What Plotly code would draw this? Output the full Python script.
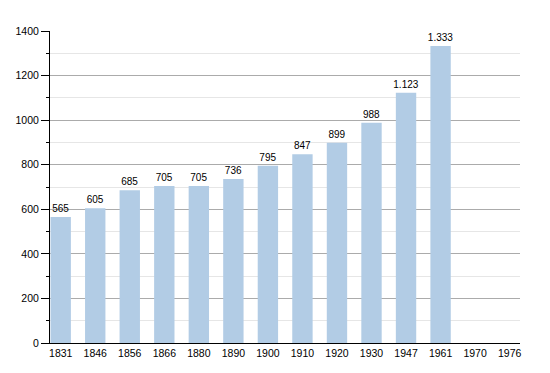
import plotly.graph_objects as go

years = ["1831", "1846", "1856", "1866", "1880", "1890", "1900", "1910", "1920", "1930", "1947", "1961", "1970", "1976"]
population = [565, 605, 685, 705, 705, 736, 795, 847, 899, 988, 1123, 1333, None, None]
labels = ["565", "605", "685", "705", "705", "736", "795", "847", "899", "988", "1.123", "1.333", "", ""]

FONT = "Liberation Sans, Arial, sans-serif"

fig = go.Figure()
fig.add_trace(go.Bar(
    x=years, y=population, text=labels, textposition="outside",
    constraintext="none",
    textfont=dict(size=10, color="#000000", family=FONT),
    marker=dict(color="#b2cce5", line=dict(width=0)),
    width=0.59, cliponaxis=False,
))
fig.update_layout(
    width=550, height=373,
    margin=dict(l=42, r=38, t=23, b=38, autoexpand=False),
    plot_bgcolor="white", paper_bgcolor="white",
    showlegend=False,
    font=dict(family=FONT, size=10, color="#000000"),
)
fig.update_xaxes(
    type="category", range=[-0.31, 13.30], automargin=False,
    showline=True, linecolor="#000000", linewidth=1,
    showgrid=False, ticks="", tickfont=dict(size=10.5),
)
fig.update_yaxes(
    range=[0, 1400], dtick=200, tick0=0, automargin=False,
    showline=True, linecolor="#000000", linewidth=1,
    showgrid=True, gridcolor="#ababab", gridwidth=1,
    ticks="outside", ticklen=8, tickcolor="#000000", tickwidth=1,
    zeroline=False, tickfont=dict(size=10.5),
    minor=dict(dtick=100, showgrid=True, gridcolor="#e6e6e6", ticks="outside", ticklen=3, tickcolor="#000000"),
)
fig.write_html("out.html")
